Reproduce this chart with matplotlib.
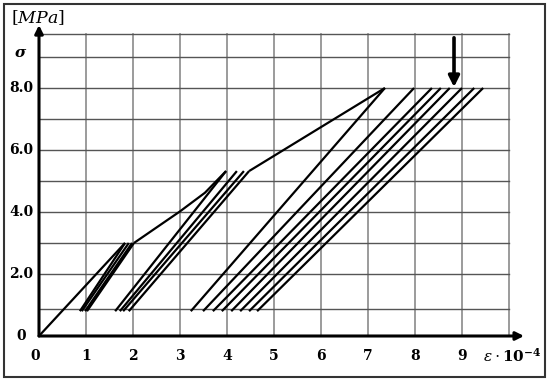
import numpy as np
import matplotlib
matplotlib.use("Agg")
import matplotlib.pyplot as plt
from matplotlib.patches import Rectangle

plt.rcParams['mathtext.fontset'] = 'dejavuserif'

# stress levels [MPa]
bottom_y = 0.8
cycle1_top_y = 3.0
cycle2_top_y = 5.32
cycle3_top_y = 8.0

# strain (x 10^-4) at the top and bottom ends of each unload/reload line
cycle1_tops_x = [1.83, 1.91, 1.98, 2.02]
cycle1_bottoms_x = [0.87, 0.91, 0.98, 1.02]
cycle2_tops_x = [3.98, 4.21, 4.36, 4.47]
cycle2_bottoms_x = [1.62, 1.72, 1.79, 1.91]
cycle3_tops_x = [7.36, 7.98, 8.36, 8.55, 8.74, 9.0, 9.26, 9.45]
cycle3_bottoms_x = [3.23, 3.49, 3.70, 3.89, 4.09, 4.28, 4.47, 4.64]

# loading branches
load1_x = [0.0, 1.83]
load1_y = [0.0, 3.0]
load2_x = [2.02, 2.5, 3.0, 3.53, 3.98]
load2_y = [3.0, 3.5, 4.02, 4.62, 5.32]
load3_x = [4.47, 7.36]
load3_y = [5.32, 8.0]

x_ticks = [0, 1, 2, 3, 4, 5, 6, 7, 8, 9]
y_ticks = [0, 2, 4, 6, 8]
y_tick_labels = ["0", "2.0", "4.0", "6.0", "8.0"]
grid_x = [1, 2, 3, 4, 5, 6, 7, 8, 9, 10]
grid_y = [0.86, 2, 3, 4, 5, 6, 7, 8, 9, 9.75]
arrow_x = 8.83

fig = plt.figure(figsize=(5.5, 3.81), dpi=100)
ax = fig.add_axes([0, 0, 1, 1])
ax.set_xlim(-39 / 47, 511 / 47)
ax.set_ylim(-45 / 31, 336 / 31)
ax.axis("off")

# grid
for gx in grid_x:
    ax.plot([gx, gx], [0, grid_y[-1]], color="#8a8a8a", lw=1.2, zorder=1)
for gy in grid_y:
    ax.plot([0, grid_x[-1]], [gy, gy], color="#555555", lw=1.0, zorder=1)

# axes with arrows
ax.annotate("", xy=(10.32, 0), xytext=(0, 0),
            arrowprops=dict(arrowstyle="-|>", lw=2.2, color="black",
                            mutation_scale=12, shrinkA=0, shrinkB=0), zorder=3)
ax.annotate("", xy=(0, 10.03), xytext=(0, 0),
            arrowprops=dict(arrowstyle="-|>", lw=2.2, color="black",
                            mutation_scale=12, shrinkA=0, shrinkB=0), zorder=3)

line_kw = dict(color="black", lw=1.6, zorder=2, solid_capstyle="butt")

ax.plot(load1_x, load1_y, **line_kw)
ax.plot(load2_x, load2_y, **line_kw)
ax.plot(load3_x, load3_y, **line_kw)

for tops, bots, ty in [(cycle1_tops_x, cycle1_bottoms_x, cycle1_top_y),
                       (cycle2_tops_x, cycle2_bottoms_x, cycle2_top_y),
                       (cycle3_tops_x, cycle3_bottoms_x, cycle3_top_y)]:
    for tx, bx in zip(tops, bots):
        ax.plot([bx, tx], [bottom_y, ty], **line_kw)

# marker arrow
ax.annotate("", xy=(arrow_x, 8.03), xytext=(arrow_x, 9.62),
            arrowprops=dict(arrowstyle="-|>", lw=2.6, color="black",
                            mutation_scale=16, shrinkA=0, shrinkB=0), zorder=4)

# tick labels
tick_font = dict(family="DejaVu Serif", fontweight="bold", fontsize=10)
for xt in x_ticks:
    xpos = -0.08 if xt == 0 else xt
    ax.text(xpos, -0.65, str(xt), ha="center", va="center", **tick_font)
for yt, lab in zip(y_ticks, y_tick_labels):
    ax.text(-0.38, yt, lab, ha="center", va="center", **tick_font)

ax.text(-0.40, 9.13, "σ", ha="center", va="center", family="DejaVu Serif",
        fontweight="bold", fontstyle="italic", fontsize=11)
ax.text(-0.02, 10.26, r"$[MPa]$", ha="center", va="center", fontsize=12.5)
ax.text(10.06, -0.65, r"$\varepsilon\cdot\mathbf{10^{-4}}$", ha="center",
        va="center", fontsize=11)

# outer frame
fig.patches.append(Rectangle((4 / 550, 4 / 381), 541 / 550, 373 / 381,
                             transform=fig.transFigure, fill=False,
                             edgecolor="#333333", lw=1.5))

fig.savefig("out.png", dpi=100)
